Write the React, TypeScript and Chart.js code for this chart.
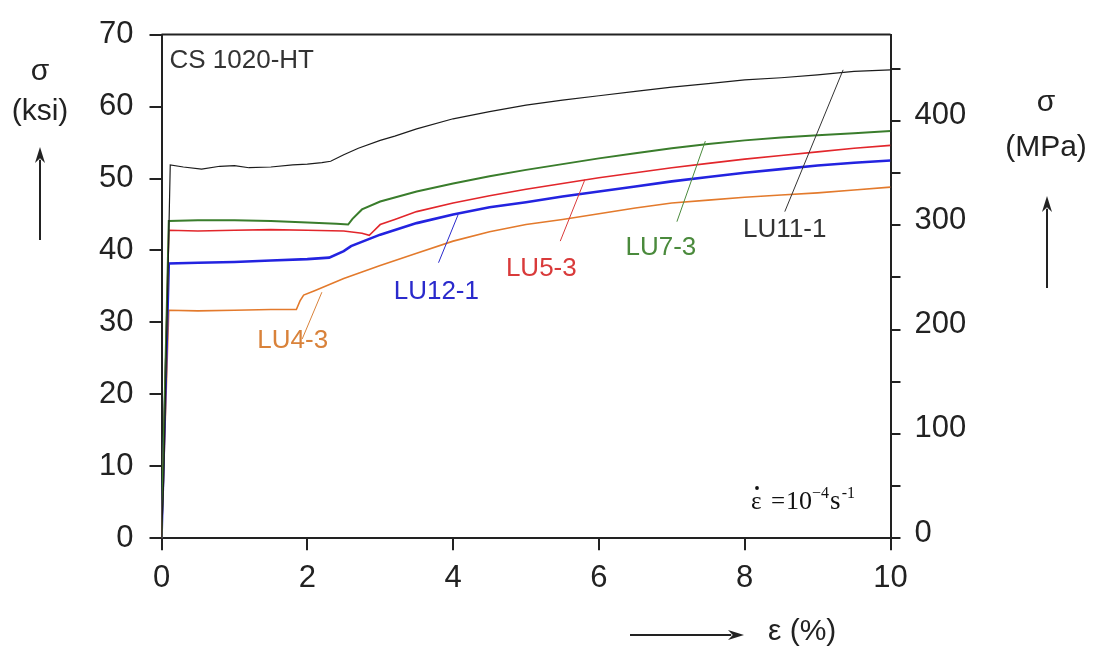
import React, { useEffect, useRef } from "react";
import { Chart, registerables } from "chart.js";

Chart.register(...registerables);

// Conversion between the two stress axes
const KSI_TO_MPA = 6.894757;
const KSI_MAX = 70;

// Stress–strain curves: strain (%) and stress (ksi)
const lu11Strain = [0, 0.03, 0.12, 0.3, 0.55, 0.8, 1.0, 1.2, 1.5, 1.8, 2.0, 2.2, 2.32, 2.5, 2.7, 3.0, 3.2, 3.5, 4.0, 4.5, 5.0, 5.5, 6.0, 6.5, 7.0, 7.5, 8.0, 8.5, 9.0, 9.5, 10.0];
const lu11Stress = [0, 8, 51.9, 51.6, 51.3, 51.7, 51.8, 51.5, 51.6, 51.9, 52.0, 52.2, 52.4, 53.3, 54.2, 55.3, 55.9, 56.9, 58.3, 59.3, 60.2, 60.9, 61.5, 62.1, 62.7, 63.2, 63.7, 64.0, 64.4, 64.9, 65.1];

const lu7Strain = [0, 0.1, 0.5, 1.0, 1.5, 2.0, 2.4, 2.56, 2.62, 2.75, 3.0, 3.5, 4.0, 4.5, 5.0, 5.5, 6.0, 6.5, 7.0, 7.5, 8.0, 8.5, 9.0, 9.5, 10.0];
const lu7Stress = [0, 44.1, 44.2, 44.2, 44.1, 43.9, 43.7, 43.6, 44.4, 45.7, 46.8, 48.2, 49.3, 50.3, 51.2, 52.0, 52.8, 53.5, 54.2, 54.8, 55.3, 55.7, 56.0, 56.3, 56.6];

const lu5Strain = [0, 0.1, 0.5, 1.0, 1.5, 2.0, 2.5, 2.75, 2.85, 2.9, 3.0, 3.2, 3.5, 4.0, 4.5, 5.0, 5.5, 6.0, 6.5, 7.0, 7.5, 8.0, 8.5, 9.0, 9.5, 10.0];
const lu5Stress = [0, 42.8, 42.7, 42.8, 42.9, 42.8, 42.7, 42.4, 42.1, 42.6, 43.6, 44.3, 45.4, 46.6, 47.6, 48.5, 49.3, 50.1, 50.8, 51.5, 52.1, 52.7, 53.2, 53.7, 54.2, 54.6];

const lu12Strain = [0, 0.1, 0.5, 1.0, 1.5, 2.0, 2.3, 2.5, 2.6, 3.0, 3.5, 4.0, 4.5, 5.0, 5.5, 6.0, 6.5, 7.0, 7.5, 8.0, 8.5, 9.0, 9.5, 10.0];
const lu12Stress = [0, 38.2, 38.3, 38.4, 38.6, 38.8, 39.0, 39.9, 40.6, 42.2, 43.8, 45.0, 46.0, 46.7, 47.5, 48.2, 48.9, 49.6, 50.2, 50.8, 51.3, 51.8, 52.2, 52.5];

const lu4Strain = [0, 0.1, 0.5, 1.0, 1.5, 1.85, 1.9, 1.95, 2.1, 2.5, 3.0, 3.5, 4.0, 4.5, 5.0, 5.5, 6.0, 6.5, 7.0, 7.5, 8.0, 8.5, 9.0, 9.5, 10.0];
const lu4Stress = [0, 31.7, 31.6, 31.7, 31.8, 31.8, 33.0, 33.8, 34.4, 36.1, 37.9, 39.6, 41.3, 42.6, 43.6, 44.3, 45.1, 45.9, 46.6, 47.0, 47.4, 47.7, 48.0, 48.4, 48.8];

// Specimen names, colours and label anchors (strain %, ksi)
const specimenNames = ["LU11-1", "LU7-3", "LU5-3", "LU12-1", "LU4-3"];
const curveColors = ["#1c1c1c", "#3a7d2c", "#e2262b", "#2323e0", "#e37a2c"];
const labelColors = ["#333333", "#4a8a3c", "#d93a3a", "#2a2acc", "#d9823a"];
const curveWidths = [1.2, 2, 1.6, 2.6, 1.6];
const labelStrain = [8.55, 6.85, 5.21, 3.77, 1.8];
const labelStress = [42.9, 40.4, 37.4, 34.2, 27.4];

// Leader lines from each label to its curve: [start, end]
const leaderStrain = [[8.55, 9.35], [7.07, 7.46], [5.47, 5.81], [3.8, 4.07], [1.93, 2.2]];
const leaderStress = [[45.4, 65.1], [44.0, 55.2], [41.3, 49.9], [38.3, 45.0], [27.7, 34.2]];

const strainTickStep = 2;
const ksiTickStep = 10;
const mpaTickStep = 50;
const mpaLabelStep = 100;

const FONT = '"Liberation Sans", Arial, sans-serif';
const SERIF = '"Liberation Serif", "Times New Roman", serif';
const INK = "#222222";

const seriesX = [lu11Strain, lu7Strain, lu5Strain, lu12Strain, lu4Strain];
const seriesY = [lu11Stress, lu7Stress, lu5Stress, lu12Stress, lu4Stress];

function drawArrow(ctx: CanvasRenderingContext2D, x1: number, y1: number, x2: number, y2: number) {
  const ang = Math.atan2(y2 - y1, x2 - x1);
  const head = 16;
  const half = 5;
  ctx.beginPath();
  ctx.moveTo(x1, y1);
  ctx.lineTo(x2 - Math.cos(ang) * head * 0.8, y2 - Math.sin(ang) * head * 0.8);
  ctx.stroke();
  ctx.beginPath();
  ctx.moveTo(x2, y2);
  ctx.lineTo(x2 - Math.cos(ang) * head - Math.sin(ang) * half, y2 - Math.sin(ang) * head + Math.cos(ang) * half);
  ctx.lineTo(x2 - Math.cos(ang) * head * 0.7, y2 - Math.sin(ang) * head * 0.7);
  ctx.lineTo(x2 - Math.cos(ang) * head + Math.sin(ang) * half, y2 - Math.sin(ang) * head - Math.cos(ang) * half);
  ctx.closePath();
  ctx.fill();
}

// Writes a run of text pieces one after another, each with its own size, rise and trailing gap
function drawRun(ctx: CanvasRenderingContext2D, x: number, y: number, parts: [string, number, number, number][]) {
  let cx = x;
  for (const [text, size, rise, gap] of parts) {
    ctx.font = `${size}px ${SERIF}`;
    ctx.fillText(text, cx, y - rise);
    cx += ctx.measureText(text).width + gap;
  }
}

const decorations = {
  id: "decorations",
  afterDraw(chart: any) {
    const { ctx, chartArea: ca, scales } = chart;
    const sx = scales.x;
    const sy = scales.y;
    ctx.save();

    // top frame line
    ctx.strokeStyle = INK;
    ctx.lineWidth = 2;
    ctx.beginPath();
    ctx.moveTo(ca.left, ca.top);
    ctx.lineTo(ca.right, ca.top);
    ctx.stroke();

    // specimen labels
    ctx.textAlign = "center";
    ctx.textBaseline = "middle";
    ctx.font = `26px ${FONT}`;
    specimenNames.forEach((name, i) => {
      ctx.fillStyle = labelColors[i];
      ctx.fillText(name, sx.getPixelForValue(labelStrain[i]), sy.getPixelForValue(labelStress[i]));
    });

    // material designation
    ctx.textAlign = "left";
    ctx.fillStyle = "#333";
    ctx.font = `26px ${FONT}`;
    ctx.fillText("CS 1020-HT", ca.left + 8, ca.top + 26);

    // strain-rate note
    ctx.fillStyle = "#111";
    ctx.textBaseline = "alphabetic";
    const bx = 751;
    const by = 509;
    ctx.font = `25px ${SERIF}`;
    ctx.fillText("\u03b5", bx, by);
    ctx.beginPath();
    ctx.arc(bx + 6, by - 21, 1.9, 0, Math.PI * 2);
    ctx.fill();
    drawRun(ctx, bx + 20, by, [
      ["=", 25, 0, 1],
      ["10", 26, 0, 0],
      ["\u22124", 16, 11, 1],
      ["s", 27, 0, 1],
      ["-1", 16, 11, 0],
    ]);

    // axis titles
    ctx.fillStyle = INK;
    ctx.strokeStyle = INK;
    ctx.lineWidth = 2;
    ctx.textAlign = "center";
    ctx.textBaseline = "middle";
    ctx.font = `30px ${FONT}`;
    ctx.fillText("\u03c3", 40, 72);
    ctx.fillText("(ksi)", 40, 112);
    drawArrow(ctx, 40, 240, 40, 147);

    ctx.fillText("\u03c3", 1046, 103);
    ctx.fillText("(MPa)", 1046, 148);
    drawArrow(ctx, 1047, 288, 1047, 196);

    ctx.textAlign = "left";
    ctx.fillText("\u03b5 (%)", 768, 632);
    drawArrow(ctx, 630, 635, 744, 635);

    ctx.restore();
  },
};

export default function App() {
  const canvasRef = useRef<HTMLCanvasElement | null>(null);

  useEffect(() => {
    const canvas = canvasRef.current;
    if (!canvas) return;

    const curveSets = specimenNames.map((name, i) => ({
      label: name,
      data: seriesX[i].map((v, k) => ({ x: v, y: seriesY[i][k] })),
      borderColor: curveColors[i],
      borderWidth: curveWidths[i],
      pointRadius: 0,
      tension: 0,
      fill: false,
      yAxisID: "y",
    }));

    const leaderSets = specimenNames.map((name, i) => ({
      label: name + " leader",
      data: leaderStrain[i].map((v, k) => ({ x: v, y: leaderStress[i][k] })),
      borderColor: labelColors[i],
      borderWidth: 1,
      pointRadius: 0,
      tension: 0,
      fill: false,
      yAxisID: "y",
    }));

    const tickFont = { family: FONT, size: 31 };

    const chart = new Chart(canvas, {
      type: "line",
      data: { datasets: [...leaderSets, ...curveSets] },
      options: {
        animation: false,
        responsive: true,
        maintainAspectRatio: false,
        layout: { padding: { top: 24.3, left: 0, right: 0, bottom: 0 } },
        plugins: { legend: { display: false }, tooltip: { enabled: false } },
        scales: {
          x: {
            type: "linear",
            min: 0,
            max: 10,
            ticks: { stepSize: strainTickStep, color: INK, font: tickFont, padding: 10, includeBounds: false },
            grid: { drawOnChartArea: false, drawTicks: true, tickLength: 12, color: INK, lineWidth: 2 },
            border: { display: true, color: INK, width: 2 },
            afterFit: (s: any) => { s.height = 110.7; },
          },
          y: {
            type: "linear",
            position: "left",
            min: 0,
            max: KSI_MAX,
            ticks: { stepSize: ksiTickStep, color: INK, font: tickFont, padding: 16, includeBounds: false },
            grid: { drawOnChartArea: false, drawTicks: true, tickLength: 12, color: INK, lineWidth: 2 },
            border: { display: true, color: INK, width: 2 },
            afterFit: (s: any) => { s.width = 161.5; },
          },
          y2: {
            type: "linear",
            position: "right",
            min: 0,
            max: KSI_MAX * KSI_TO_MPA,
            ticks: {
              stepSize: mpaTickStep,
              color: INK,
              font: tickFont,
              padding: 14,
              labelOffset: -5,
              includeBounds: false,
              callback: (v: any) => (Number(v) % mpaLabelStep === 0 ? String(v) : ""),
            },
            grid: { drawOnChartArea: false, drawTicks: true, tickLength: 10, color: INK, lineWidth: 2 },
            border: { display: true, color: INK, width: 2 },
            afterFit: (s: any) => { s.width = 202.5; },
          },
        },
      },
      plugins: [decorations],
    });

    return () => chart.destroy();
  }, []);

  return (
    <div style={{ position: "fixed", left: 0, top: 0, width: 1093, height: 649, background: "#fff" }}>
      <canvas ref={canvasRef} />
    </div>
  );
}
